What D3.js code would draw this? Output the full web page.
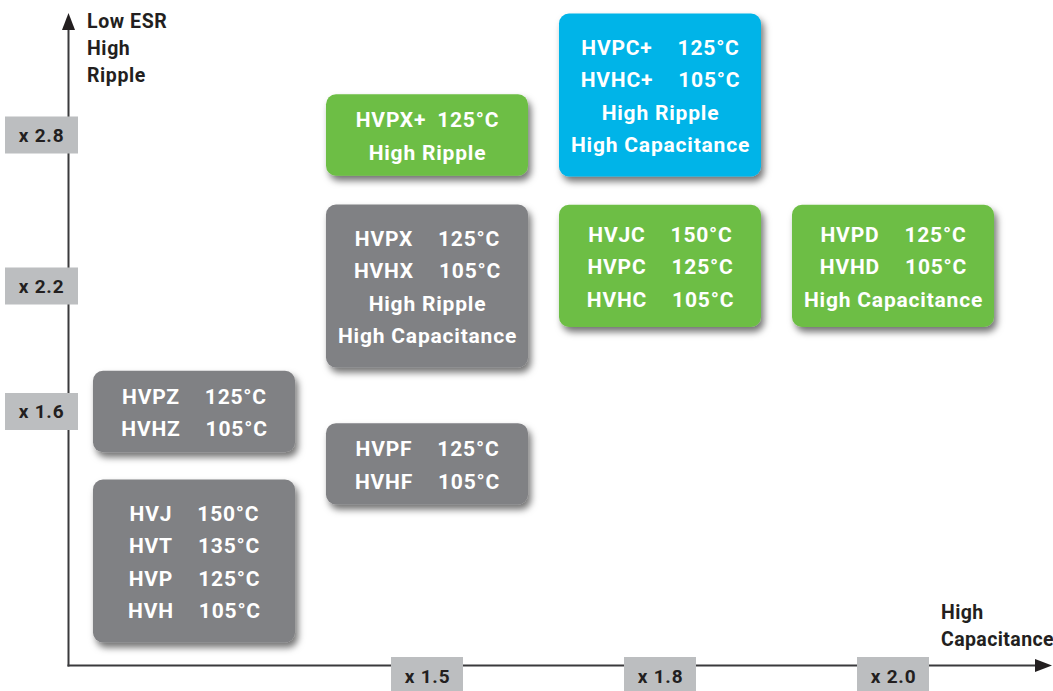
<!DOCTYPE html>
<html>
<head>
<meta charset="utf-8">
<script src="https://cdn.jsdelivr.net/npm/d3@7"></script>
<style>
  body { margin: 0; background: #fff; }
  text { font-family: Roboto, "Liberation Sans", sans-serif; font-weight: bold; }
</style>
</head>
<body>
<div id="chart"></div>
<script>
// capacitance categories (columns) and ripple levels
var capCats = ["x 1.0", "x 1.5", "x 1.8", "x 2.0"];
var xTickLabels = ["x 1.5", "x 1.8", "x 2.0"];
var yTickValues = [2.8, 2.2, 1.6];
var yTickLabels = ["x 2.8", "x 2.2", "x 1.6"];

// one entry per product box
var boxCap    = ["x 1.0", "x 1.0", "x 1.5", "x 1.5", "x 1.5", "x 1.8", "x 1.8", "x 2.0"];
var boxRipple = [1.0, 1.6, 1.39, 2.2, 2.8, 2.28, 3.0, 2.28];
var boxGroup  = ["standard", "standard", "standard", "standard", "new", "new", "plus", "new"];
var boxRows = [
  [["HVJ", "150°C"], ["HVT", "135°C"], ["HVP", "125°C"], ["HVH", "105°C"]],
  [["HVPZ", "125°C"], ["HVHZ", "105°C"]],
  [["HVPF", "125°C"], ["HVHF", "105°C"]],
  [["HVPX", "125°C"], ["HVHX", "105°C"], "High Ripple", "High Capacitance"],
  [["HVPX+", "125°C"], "High Ripple"],
  [["HVJC", "150°C"], ["HVPC", "125°C"], ["HVHC", "105°C"]],
  [["HVPC+", "125°C"], ["HVHC+", "105°C"], "High Ripple", "High Capacitance"],
  [["HVPD", "125°C"], ["HVHD", "105°C"], "High Capacitance"]
];

var W = 1053, H = 691;
var svg = d3.select("#chart")
  .append("svg")
    .attr("width", W)
    .attr("height", H);

// drop shadow for the boxes
var defs = svg.append("defs");
var f = defs.append("filter").attr("id", "shadow")
    .attr("x", "-20%").attr("y", "-20%").attr("width", "150%").attr("height", "160%");
f.append("feDropShadow")
    .attr("dx", 3).attr("dy", 5).attr("stdDeviation", 3.5)
    .attr("flood-color", "#000").attr("flood-opacity", 0.55);

// scales
var x = d3.scaleBand()
    .domain(capCats)
    .range([77.5, 1009.5])
    .paddingInner(0.133)
    .paddingOuter(0.0665);

var y = d3.scaleLinear()
    .domain([1.0, 1.6, 2.2, 2.8, 3.0])
    .range([561, 411.5, 286, 135, 95]);

var color = d3.scaleOrdinal()
    .domain(["standard", "new", "plus"])
    .range(["#808184", "#6dbe45", "#00b4e8"]);

var axisColor = "#3a3a3c", textDark = "#231f20";
var x0 = 68.5, yBase = 665.5;

// axes
svg.append("line")
    .attr("x1", x0).attr("x2", x0).attr("y1", yBase + 1).attr("y2", 28)
    .attr("stroke", axisColor).attr("stroke-width", 2);
svg.append("path")
    .attr("d", "M" + (x0 - 6.5) + ",30L" + x0 + ",13L" + (x0 + 6.5) + ",30Z")
    .attr("fill", "#231f20");
svg.append("line")
    .attr("x1", x0 - 1).attr("x2", 1038).attr("y1", yBase).attr("y2", yBase)
    .attr("stroke", axisColor).attr("stroke-width", 2);
svg.append("path")
    .attr("d", "M1035," + (yBase - 6.5) + "L1052," + yBase + "L1035," + (yBase + 6.5) + "Z")
    .attr("fill", "#231f20");

// axis titles
svg.append("text")
    .attr("fill", textDark).attr("font-size", 19.5)
    .attr("letter-spacing", 0.6)
    .selectAll("tspan")
    .data(["Low ESR", "High", "Ripple"])
    .enter().append("tspan")
      .attr("x", 87)
      .attr("y", function(d, i) { return 28 + i * 27; })
      .text(function(d) { return d; });

svg.append("text")
    .attr("fill", textDark).attr("font-size", 19.5)
    .attr("letter-spacing", 0.4)
    .selectAll("tspan")
    .data(["High", "Capacitance"])
    .enter().append("tspan")
      .attr("x", 941)
      .attr("y", function(d, i) { return 619 + i * 26.5; })
      .text(function(d) { return d; });

// y tick boxes
var yt = svg.append("g").selectAll("g")
    .data(yTickValues)
    .enter().append("g")
      .attr("transform", function(d) { return "translate(0," + y(d) + ")"; });
yt.append("rect")
    .attr("x", 5).attr("y", -18.5).attr("width", 73).attr("height", 37)
    .attr("fill", "#bcbec0");
yt.append("text")
    .attr("x", 41.5).attr("y", 0).attr("dy", "0.36em")
    .attr("text-anchor", "middle")
    .attr("fill", textDark).attr("font-size", 19)
    .attr("letter-spacing", 0.8)
    .text(function(d, i) { return yTickLabels[i]; });

// x tick boxes
var xt = svg.append("g").selectAll("g")
    .data(xTickLabels)
    .enter().append("g")
      .attr("transform", function(d) { return "translate(" + (x(d) + x.bandwidth() / 2) + ",0)"; });
xt.append("rect")
    .attr("x", -36).attr("y", 657).attr("width", 72).attr("height", 40)
    .attr("fill", "#bcbec0");
xt.append("text")
    .attr("x", 0.5).attr("y", 676).attr("dy", "0.36em")
    .attr("text-anchor", "middle")
    .attr("fill", textDark).attr("font-size", 19)
    .attr("letter-spacing", 0.8)
    .text(function(d) { return d; });

// product boxes
var rowH = 32.5;
var boxes = svg.append("g").selectAll("g")
    .data(boxRows)
    .enter().append("g")
      .attr("transform", function(d, i) {
        return "translate(" + x(boxCap[i]) + "," + y(boxRipple[i]) + ")";
      });

boxes.append("rect")
    .attr("x", 0)
    .attr("y", function(d) { return -d.length * 40.7 / 2; })
    .attr("width", x.bandwidth())
    .attr("height", function(d) { return d.length * 40.7; })
    .attr("rx", 10).attr("ry", 10)
    .attr("fill", function(d, i) { return color(boxGroup[i]); })
    .attr("filter", "url(#shadow)");

boxes.each(function(rows, i) {
  var g = d3.select(this);
  var cx = x.bandwidth() / 2 + 0.5;
  rows.forEach(function(r, j) {
    var ty = (j - (rows.length - 1) / 2) * rowH + 1;
    var t = g.append("text")
        .attr("x", cx).attr("y", ty).attr("dy", "0.36em")
        .attr("text-anchor", "middle")
        .attr("fill", "#fff").attr("font-size", 21)
        .attr("letter-spacing", 0.8);
    if (typeof r === "string") {
      t.text(r);
    } else {
      t.append("tspan").text(r[0]);
      t.append("tspan").attr("dx", rows.length === 2 && boxGroup[i] === "new" ? 11 : 25).text(r[1]);
    }
  });
});
</script>
</body>
</html>
